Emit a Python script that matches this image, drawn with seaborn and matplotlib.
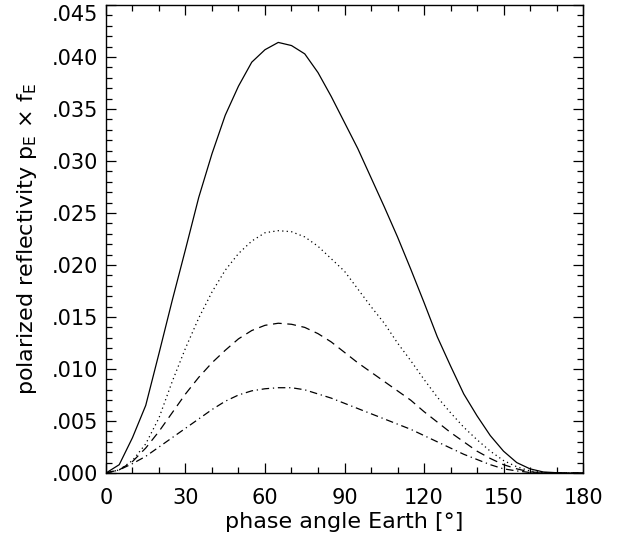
import numpy as np
import pandas as pd
import matplotlib
matplotlib.use("Agg")
import matplotlib.pyplot as plt
from matplotlib.ticker import MultipleLocator, FuncFormatter
import seaborn as sns

# phase angle grid (degrees)
phase = [0, 5, 10, 15, 20, 25, 30, 35, 40, 45, 50, 55, 60, 65, 70, 75, 80, 85, 90,
         95, 100, 105, 110, 115, 120, 125, 130, 135, 140, 145, 150, 155, 160, 165,
         170, 175, 180]

curve_solid = [0.0, 0.0008, 0.0034, 0.0065, 0.0115, 0.0166, 0.0215, 0.0265, 0.0307,
               0.0344, 0.0372, 0.0395, 0.0407, 0.0414, 0.0411, 0.0403, 0.0385, 0.0362,
               0.0337, 0.0312, 0.0284, 0.0256, 0.0227, 0.0196, 0.0164, 0.0131, 0.0103,
               0.0076, 0.0055, 0.0036, 0.0021, 0.0010, 0.0004, 0.0001, 0.00003, 0.0, 0.0]

curve_dotted = [0.0, 0.0003, 0.0012, 0.0028, 0.0053, 0.0088, 0.0120, 0.0149, 0.0174,
                0.0195, 0.0211, 0.0223, 0.0231, 0.0233, 0.0232, 0.0227, 0.0218, 0.0206,
                0.0194, 0.0177, 0.0160, 0.0144, 0.0125, 0.0108, 0.0090, 0.0073, 0.0058,
                0.0044, 0.0032, 0.0021, 0.0012, 0.0006, 0.0002, 0.00005, 0.0, 0.0, 0.0]

curve_dashed = [0.0, 0.0003, 0.0011, 0.0024, 0.0040, 0.0058, 0.0076, 0.0092, 0.0106,
                0.0118, 0.0129, 0.0137, 0.0142, 0.0144, 0.0143, 0.0140, 0.0134, 0.0126,
                0.0116, 0.0106, 0.0097, 0.0088, 0.0079, 0.0070, 0.0059, 0.0049, 0.0039,
                0.0030, 0.0021, 0.0014, 0.0008, 0.0004, 0.0001, 0.00003, 0.0, 0.0, 0.0]

curve_dashdot = [0.0, 0.0003, 0.0009, 0.0016, 0.0025, 0.0034, 0.0043, 0.0052, 0.0061,
                 0.0069, 0.0075, 0.0079, 0.0081, 0.0082, 0.0082, 0.0080, 0.0076, 0.0072,
                 0.0067, 0.0062, 0.0057, 0.0052, 0.0047, 0.0042, 0.0036, 0.0030, 0.0024,
                 0.0018, 0.0013, 0.0008, 0.0004, 0.0002, 0.00005, 0.0, 0.0, 0.0, 0.0]

x_ticks = [0, 30, 60, 90, 120, 150, 180]
x_label = "phase angle Earth [°]"
y_label = r"polarized reflectivity p$_{\rm E}$ $\times$ f$_{\rm E}$"

sns.set_style("ticks")
plt.rcParams["font.family"] = ["DejaVu Sans"]
plt.rcParams["mathtext.fontset"] = "dejavusans"
plt.rcParams["text.color"] = "black"
plt.rcParams["axes.labelcolor"] = "black"

fig = plt.figure(figsize=(6.29, 5.42), dpi=100)
ax = fig.add_axes([0.1685, 0.1273, 0.7584, 0.8635])

styles = [
    (curve_solid, "-"),
    (curve_dotted, (0, (1, 2.6))),
    (curve_dashed, (0, (7, 4.5))),
    (curve_dashdot, (0, (6, 3, 1, 3))),
]
for ys, ls in styles:
    sns.lineplot(x=phase, y=ys, color="black", linewidth=0.9, linestyle=ls, ax=ax)

ax.set_xlim(0, 180)
ax.set_ylim(0, 0.045)
ax.set_xticks(x_ticks)
ax.xaxis.set_minor_locator(MultipleLocator(10))
ax.yaxis.set_major_locator(MultipleLocator(0.005))
ax.yaxis.set_minor_locator(MultipleLocator(0.001))
ax.yaxis.set_major_formatter(FuncFormatter(lambda v, p: f"{v:.3f}".lstrip("0")))

ax.tick_params(which="both", direction="in", top=True, right=True, color="black",
               width=0.9, labelsize=15, labelcolor="black")
ax.tick_params(which="major", length=7.5)
ax.tick_params(which="minor", length=4)
ax.tick_params(axis="x", which="major", pad=11)
ax.tick_params(axis="y", which="major", pad=6)
for s in ax.spines.values():
    s.set_visible(True)
    s.set_linewidth(1.0)
    s.set_color("black")

ax.set_xlabel(x_label, fontsize=16, labelpad=3)
ax.set_ylabel(y_label, fontsize=16, labelpad=9)

fig.canvas.draw()
# top y tick label sits below its tick so it stays inside the figure
for t in ax.get_yticklabels():
    if t.get_text() == ".045":
        t.set_verticalalignment("top")

fig.savefig("out.png", dpi=100, facecolor="white")
